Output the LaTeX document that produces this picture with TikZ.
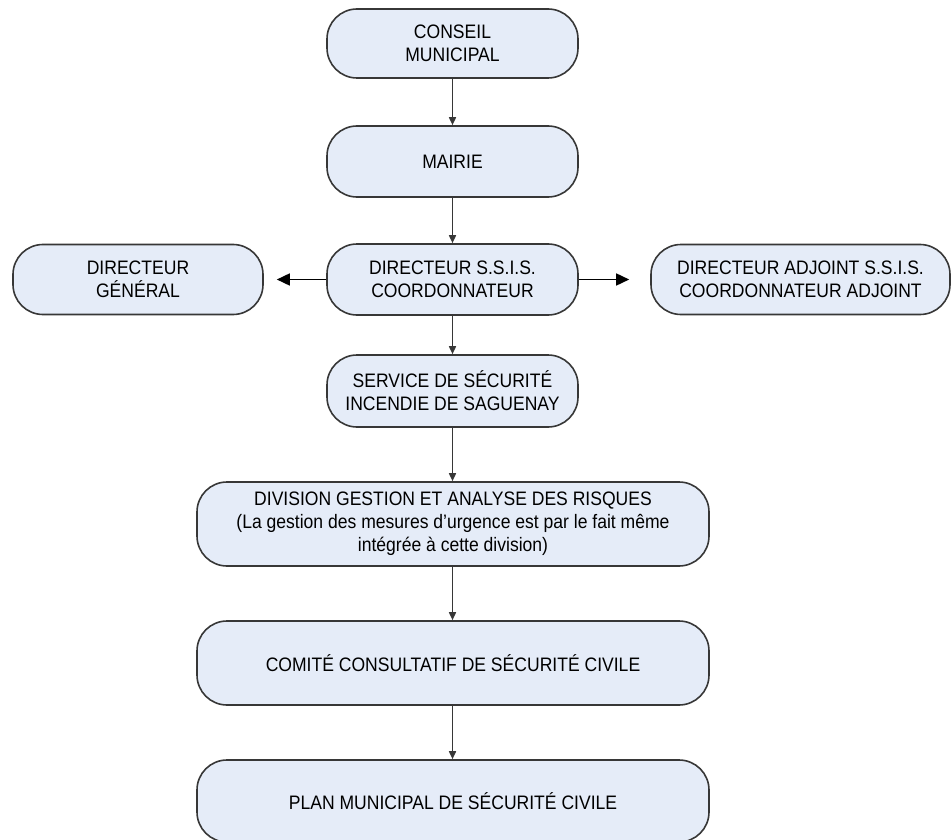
\documentclass[tikz,border=0pt]{standalone}
\usepackage{fontspec}
\setmainfont{Liberation Sans}[FakeStretch=0.9]
\usetikzlibrary{arrows.meta}
\definecolor{boxfill}{RGB}{229,236,248}
\definecolor{boxline}{RGB}{55,55,55}
\begin{document}
\begin{tikzpicture}[x=1pt,y=-1pt,
  box/.style={draw=boxline, fill=boxfill, line width=1.6pt, rounded corners=30pt,
    align=center, inner sep=0pt, font=\fontsize{19.5}{23}\selectfont},
  small/.style={box, minimum width=251pt, minimum height=71pt},
  wide/.style={box, minimum width=512pt, minimum height=84pt},
  varrow/.style={draw=boxline, line width=1.6pt, -{Triangle[length=8pt,width=7pt]}},
  harrow/.style={draw=black, line width=1.6pt, -{Triangle[length=13pt,width=12pt]}}]
\useasboundingbox (0,0) rectangle (951,840);
\node[small, minimum height=69pt] (conseil) at (452.5,43.5) {CONSEIL\\MUNICIPAL};
\node[small] (mairie) at (452.5,161.5) {MAIRIE};
\node[small] (dir) at (452.5,279.5) {DIRECTEUR S.S.I.S.\\COORDONNATEUR};
\node[small, minimum width=250pt, minimum height=70pt] (dg) at (138,279.5) {DIRECTEUR\\GÉNÉRAL};
\node[small, minimum width=299pt, minimum height=70pt] (adj) at (800.5,279.5) {DIRECTEUR ADJOINT S.S.I.S.\\COORDONNATEUR ADJOINT};
\node[small, minimum height=72pt] (service) at (452.5,391) {SERVICE DE SÉCURITÉ\\INCENDIE DE SAGUENAY};
\node[wide] (division) at (453,524) {DIVISION GESTION ET ANALYSE DES RISQUES\\(La gestion des mesures d’urgence est par le fait même\\intégrée à cette division)};
\node[wide] (comite) at (453,663) {COMITÉ CONSULTATIF DE SÉCURITÉ CIVILE};
\node[wide, minimum height=82pt] (plan) at (453,801) {PLAN MUNICIPAL DE SÉCURITÉ CIVILE};
\draw[varrow] (conseil) -- (mairie);
\draw[varrow] (mairie) -- (dir);
\draw[varrow] (dir) -- (service);
\draw[varrow] (service) -- (division.north -| service.south);
\draw[varrow] (division.south -| service.south) -- (comite.north -| service.south);
\draw[varrow] (comite.south -| service.south) -- (plan.north -| service.south);
\draw[harrow, shorten >=13pt] (dir) -- (dg);
\draw[harrow, shorten >=21pt] (dir) -- (adj);
\end{tikzpicture}
\end{document}
